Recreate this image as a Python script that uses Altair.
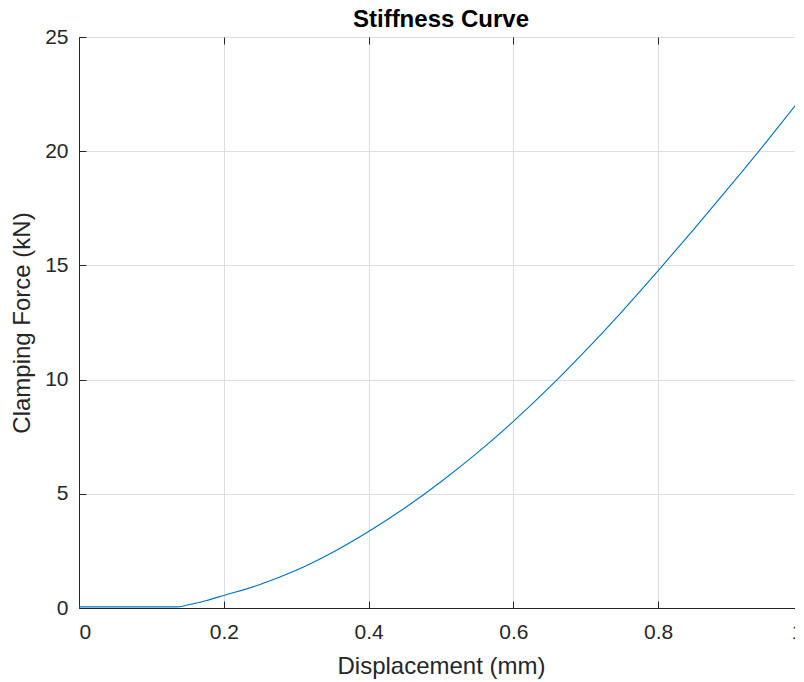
import altair as alt
import pandas as pd

# Data
displacement = [0.0, 0.05, 0.10, 0.135, 0.15, 0.175, 0.20, 0.25, 0.30, 0.35, 0.40, 0.45,
                0.50, 0.55, 0.60, 0.65, 0.70, 0.75, 0.80, 0.85, 0.90, 0.95, 1.0]
force = [0.05, 0.05, 0.05, 0.05, 0.13, 0.32, 0.55, 1.03, 1.65, 2.43, 3.35, 4.38,
         5.53, 6.79, 8.17, 9.67, 11.28, 12.98, 14.77, 16.61, 18.50, 20.43, 22.42]
x_ticks = [0, 0.2, 0.4, 0.6, 0.8, 1.0]
y_ticks = [0, 5, 10, 15, 20, 25]

df = pd.DataFrame({"x": displacement, "y": force})

FONT = "Liberation Sans"
AX = "#262626"
W, H = 724, 571

xs = alt.Scale(domain=[0, 1], nice=False)
ys = alt.Scale(domain=[0, 25], nice=False)

base = alt.Chart(df)

main = base.mark_line(color="#0072BD", strokeWidth=1.1, interpolate="monotone", clip=True).encode(
    x=alt.X("x:Q", scale=xs, title="Displacement (mm)",
            axis=alt.Axis(values=x_ticks, format="~g", grid=True, gridColor="#dedede",
                          ticks=False, tickSize=0, domain=True, domainColor=AX,
                          labelFont=FONT, labelFontSize=21, labelColor=AX, labelPadding=13,
                          titleFont=FONT, titleFontSize=24, titleFontWeight="normal",
                          titleColor=AX, titlePadding=12)),
    y=alt.Y("y:Q", scale=ys, title="Clamping Force (kN)",
            axis=alt.Axis(values=y_ticks, grid=True, gridColor="#dedede",
                          ticks=False, tickSize=0, domain=True, domainColor=AX,
                          labelFont=FONT, labelFontSize=21, labelColor=AX, labelPadding=11,
                          titleFont=FONT, titleFontSize=24, titleFontWeight="normal",
                          titleColor=AX, titlePadding=10)),
)

# inward ticks on bottom and left (axes moved across the plot)
ticks_a = base.mark_line(opacity=0).encode(
    x=alt.X("x:Q", scale=xs, title=None,
            axis=alt.Axis(orient="top", offset=-H, values=x_ticks, labels=False, grid=False,
                          domain=False, ticks=True, tickSize=7, tickColor=AX)),
    y=alt.Y("y:Q", scale=ys, title=None,
            axis=alt.Axis(orient="right", offset=-W, values=y_ticks, labels=False, grid=False,
                          domain=False, ticks=True, tickSize=7, tickColor=AX)),
)

# inward ticks on top and right
ticks_b = base.mark_line(opacity=0).encode(
    x=alt.X("x:Q", scale=xs, title=None,
            axis=alt.Axis(orient="bottom", offset=-H, values=x_ticks, labels=False, grid=False,
                          domain=False, ticks=True, tickSize=7, tickColor=AX)),
    y=alt.Y("y:Q", scale=ys, title=None,
            axis=alt.Axis(orient="left", offset=-W, values=y_ticks, labels=False, grid=False,
                          domain=False, ticks=True, tickSize=7, tickColor=AX)),
)

chart = alt.layer(main, ticks_a, ticks_b).resolve_axis(
    x="independent", y="independent"
).properties(
    width=W, height=H,
    title=alt.TitleParams("Stiffness Curve", font=FONT, fontSize=24, fontWeight="bold",
                          color="#000000", offset=9, dy=15),
    autosize=alt.AutoSizeParams(type="none"),
    padding={"left": 71, "top": 29, "right": -8, "bottom": 74},
).configure_view(stroke=AX, strokeWidth=1).configure(background="white")

chart.save("out.html", embed_options={"renderer": "svg", "actions": False})
